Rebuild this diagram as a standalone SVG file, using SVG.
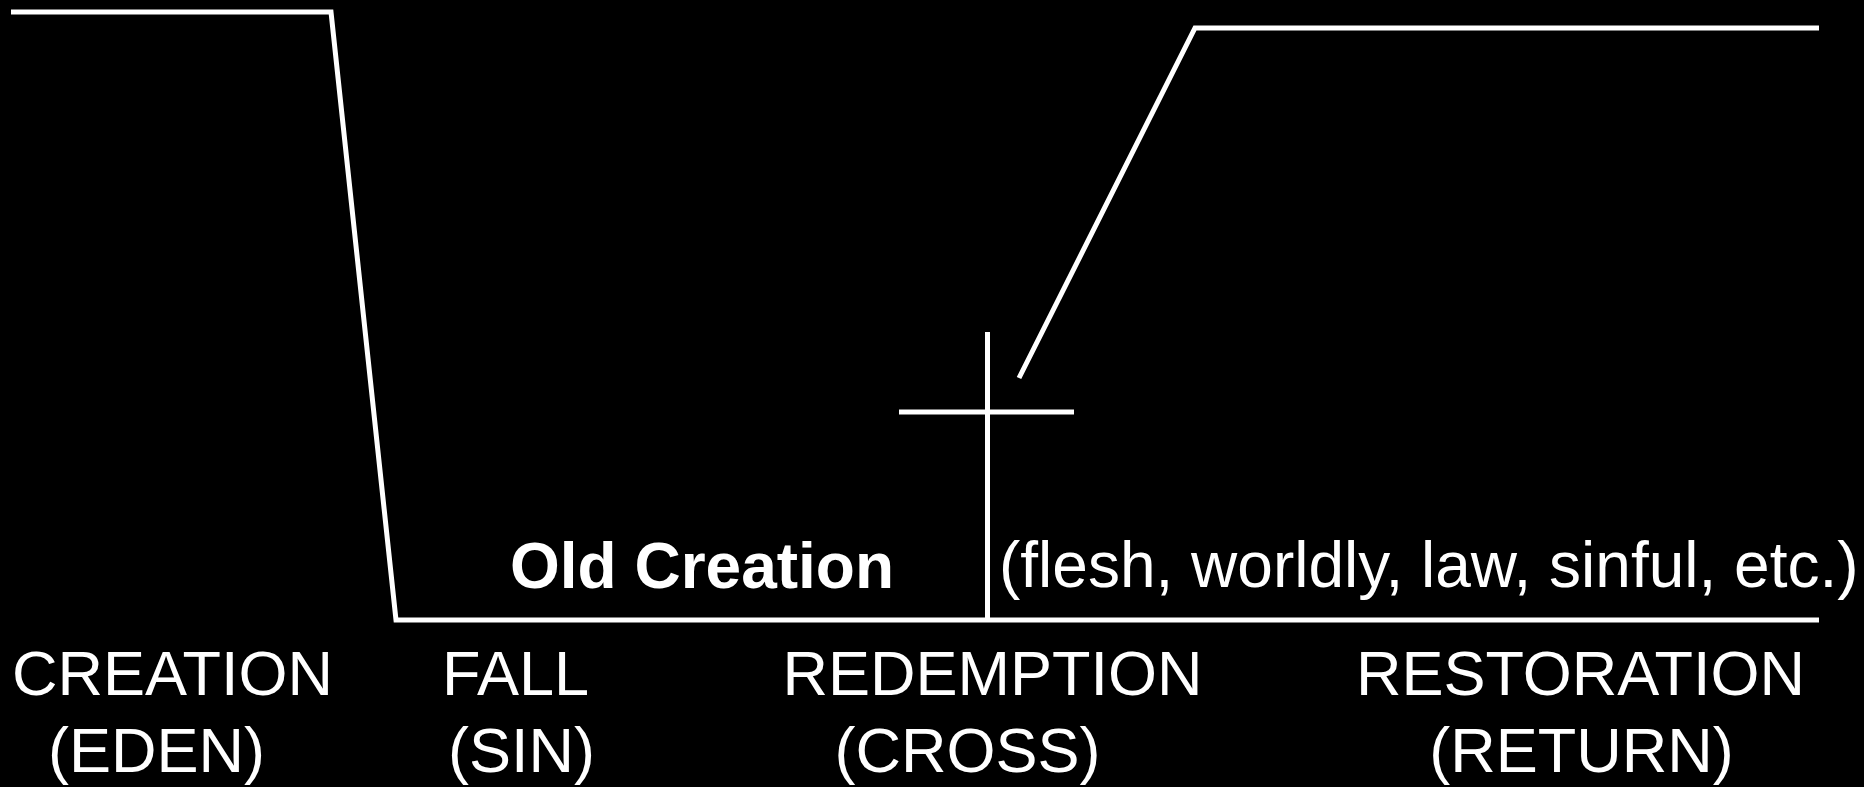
<svg xmlns="http://www.w3.org/2000/svg" width="1864" height="787" viewBox="0 0 1864 787">
<style>
.ln{fill:none;stroke:#fff;stroke-width:5;stroke-linejoin:miter;stroke-linecap:butt}
.t{fill:#fff;font-family:"Liberation Sans",Arial,sans-serif;font-size:63px}
.s{font-size:64px}
.b{font-weight:bold}
.m{text-anchor:middle}
</style>
<rect x="0" y="0" width="1864" height="787" fill="#000"/>
<g id="connectors">
<polyline class="ln" points="11,12 331,12 396,620 1819,620"/>
<polyline class="ln" points="1019,378 1195,28 1819,28"/>
</g>
<g id="cross">
<line class="ln" x1="987.5" y1="332" x2="987.5" y2="620"/>
<line class="ln" x1="899" y1="412" x2="1074" y2="412"/>
</g>
<g id="old-creation">
<text class="t s b" x="510" y="588">Old Creation</text>
</g>
<g id="flesh">
<text class="t s" x="999" y="587">(flesh, worldly, law, sinful, etc.)</text>
</g>
<g id="creation">
<text class="t m" x="172.5" y="695">CREATION</text>
<text class="t m" x="156.5" y="772">(EDEN)</text>
</g>
<g id="fall">
<text class="t m" x="515.5" y="695">FALL</text>
<text class="t m" x="521.5" y="772">(SIN)</text>
</g>
<g id="redemption">
<text class="t m" x="992.5" y="695">REDEMPTION</text>
<text class="t m" x="967.5" y="772">(CROSS)</text>
</g>
<g id="restoration">
<text class="t m" x="1580.5" y="695">RESTORATION</text>
<text class="t m" x="1581.5" y="772">(RETURN)</text>
</g>
</svg>
